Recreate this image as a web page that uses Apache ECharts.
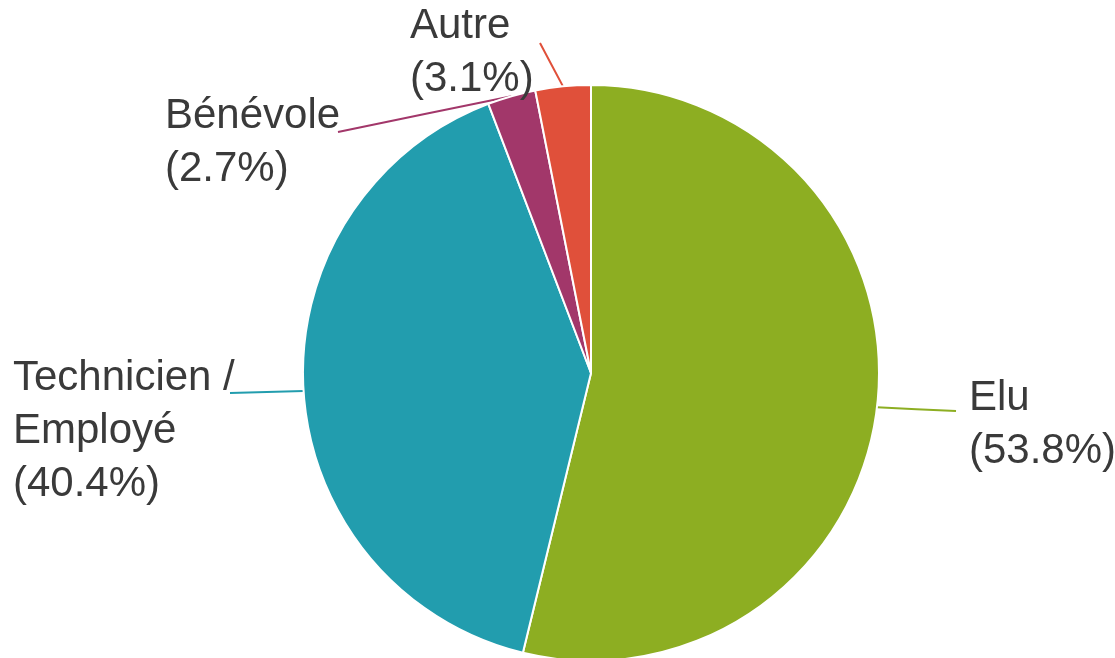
<!DOCTYPE html>
<html>
<head>
<meta charset="utf-8">
<script src="https://cdn.jsdelivr.net/npm/echarts@6/dist/echarts.min.js"></script>
<style>
html,body{margin:0;padding:0;background:#fff;}
#c{width:1115px;height:658px;}
</style>
</head>
<body>
<div id="c"></div>
<script>
const categories = ['Elu', 'Technicien / Employé', 'Bénévole', 'Autre'];
const values = [53.8, 40.4, 2.7, 3.1];
const colors = ['#8DAE22', '#229DAE', '#A2376A', '#E0503A'];

// label placement (styling only)
const labelPos = [
  { x: 969, y: 425, end: [956, 411] },
  { x: 13, y: 431, end: [230, 393] },
  { x: 165, y: 143, end: [338, 132] },
  { x: 410, y: 53, end: [540, 43] }
];

const CX = 591, CY = 373, R = 288;

const chart = echarts.init(document.getElementById('c'), null, { renderer: 'canvas' });

function edgePoint(i) {
  const total = values.reduce((a, b) => a + b, 0);
  let before = 0;
  for (let k = 0; k < i; k++) before += values[k];
  const midFrac = (before + values[i] / 2) / total;
  const ang = midFrac * Math.PI * 2; // clockwise from top
  return [CX + R * Math.sin(ang), CY - R * Math.cos(ang)];
}

chart.setOption({
  backgroundColor: '#ffffff',
  animation: false,
  series: [{
    type: 'pie',
    center: [CX, CY],
    radius: [0, R],
    startAngle: 90,
    clockwise: true,
    avoidLabelOverlap: false,
    itemStyle: { borderColor: '#ffffff', borderWidth: 2 },
    data: categories.map((n, i) => ({
      name: n,
      value: values[i],
      itemStyle: { color: colors[i] },
      labelLine: { lineStyle: { color: colors[i], width: 2 } }
    })),
    label: {
      show: true,
      fontFamily: 'Liberation Sans, Arial, sans-serif',
      fontSize: 42,
      lineHeight: 53,
      color: '#3a3a3a',
      formatter: function (p) {
        return p.name.replace(' / ', ' /\n') + '\n(' + p.value.toFixed(1) + '%)';
      }
    },
    labelLine: { show: true, length: 20, length2: 20, smooth: false },
    labelLayout: function (params) {
      const i = params.dataIndex;
      const L = labelPos[i];
      let p0 = (params.labelLinePoints && params.labelLinePoints[0]) ? params.labelLinePoints[0] : edgePoint(i);
      const mid = [(p0[0] + L.end[0]) / 2, (p0[1] + L.end[1]) / 2];
      return {
        x: L.x,
        y: L.y,
        align: 'left',
        verticalAlign: 'middle',
        labelLinePoints: [p0, mid, L.end]
      };
    }
  }]
});
</script>
</body>
</html>
